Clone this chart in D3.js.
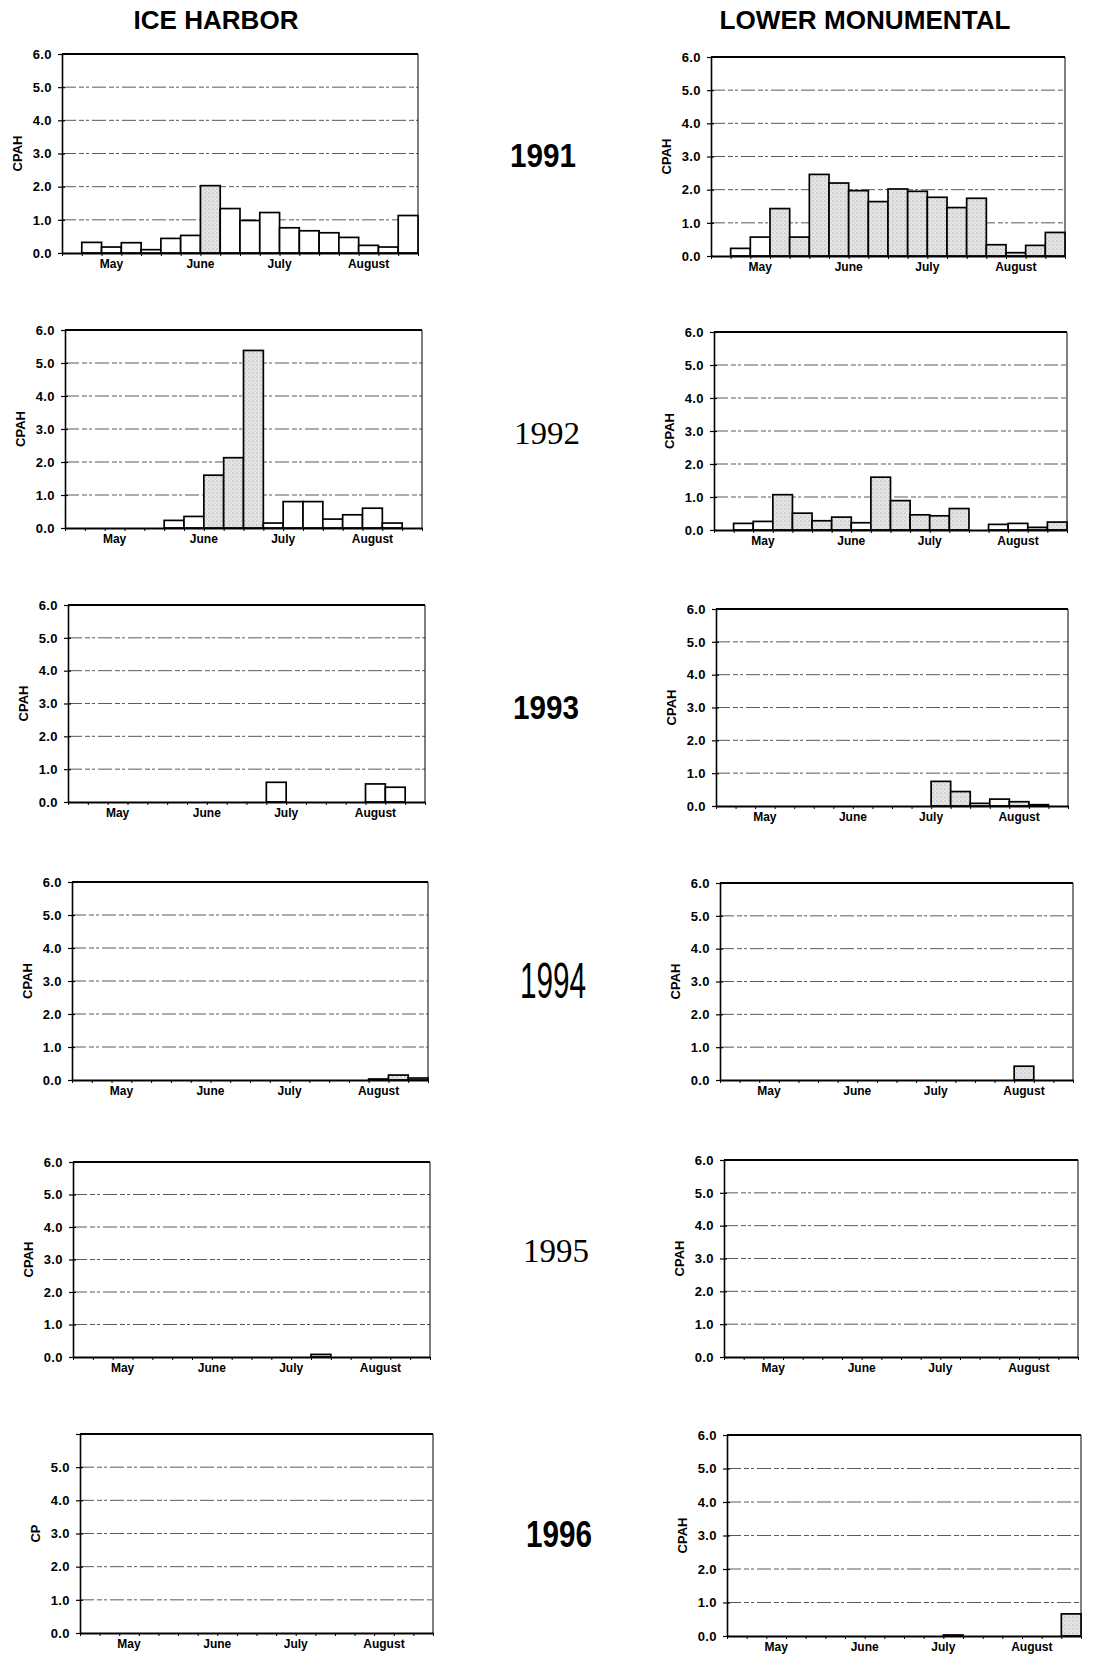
<!DOCTYPE html>
<html>
<head>
<meta charset="utf-8">
<script src="https://cdn.jsdelivr.net/npm/d3@7"></script>
<style>
  body { margin: 0; background: #fff; }
  .tick text { font-family: "Liberation Sans", Arial, sans-serif; font-weight: bold; }
</style>
</head>
<body>
<div id="chart"></div>
<script>
// weekly bins, May through August (18 slots per panel)
const months = ['May', 'June', 'July', 'August'];
const monthPos = [2.5, 7, 11, 15.5];
const yTicks = [0, 1, 2, 3, 4, 5, 6];
const years = ['1991', '1992', '1993', '1994', '1995', '1996'];
const sites = ['ICE HARBOR', 'LOWER MONUMENTAL'];

const iceHarbor1991 = [0, 0.32, 0.18, 0.31, 0.1, 0.44, 0.53, 2.03, 1.34, 0.98, 1.22, 0.76, 0.67, 0.61, 0.47, 0.23, 0.18, 1.13];
const lowerMon1991  = [0, 0.23, 0.57, 1.43, 0.57, 2.46, 2.2, 1.97, 1.64, 2.02, 1.95, 1.77, 1.46, 1.74, 0.34, 0.1, 0.32, 0.71];
const iceHarbor1992 = [0, 0, 0, 0, 0, 0.23, 0.35, 1.6, 2.13, 5.38, 0.15, 0.8, 0.8, 0.27, 0.4, 0.6, 0.15, 0];
const lowerMon1992  = [0, 0.2, 0.26, 1.07, 0.51, 0.28, 0.39, 0.22, 1.6, 0.89, 0.46, 0.43, 0.65, 0, 0.17, 0.2, 0.08, 0.24];
const iceHarbor1993 = [0, 0, 0, 0, 0, 0, 0, 0, 0, 0, 0.6, 0, 0, 0, 0, 0.55, 0.45, 0];
const lowerMon1993  = [0, 0, 0, 0, 0, 0, 0, 0, 0, 0, 0, 0.75, 0.44, 0.08, 0.21, 0.13, 0.04, 0];
const iceHarbor1994 = [0, 0, 0, 0, 0, 0, 0, 0, 0, 0, 0, 0, 0, 0, 0, 0.03, 0.15, 0.06];
const lowerMon1994  = [0, 0, 0, 0, 0, 0, 0, 0, 0, 0, 0, 0, 0, 0, 0, 0.42, 0, 0];
const iceHarbor1995 = [0, 0, 0, 0, 0, 0, 0, 0, 0, 0, 0, 0, 0.08, 0, 0, 0, 0, 0];
const lowerMon1995  = [0, 0, 0, 0, 0, 0, 0, 0, 0, 0, 0, 0, 0, 0, 0, 0, 0, 0];
const iceHarbor1996 = [0, 0, 0, 0, 0, 0, 0, 0, 0, 0, 0, 0, 0, 0, 0, 0, 0, 0];
const lowerMon1996  = [0, 0, 0, 0, 0, 0, 0, 0, 0, 0, 0, 0.03, 0, 0, 0, 0, 0, 0.66];

// which weekly bars are stippled
const shade = {
  ih1991: [7],
  lm1991: [3, 4, 5, 6, 7, 8, 9, 10, 11, 12, 13, 14, 15, 16, 17],
  ih1992: [7, 8, 9],
  lm1992: [3, 4, 5, 6, 8, 9, 10, 11, 12, 16, 17],
  ih1993: [],
  lm1993: [11, 12, 15],
  ih1994: [16],
  lm1994: [15],
  ih1995: [12],
  lm1995: [],
  ih1996: [],
  lm1996: [17]
};

const width = 1107, height = 1666;
const svg = d3.select('#chart').append('svg')
  .attr('width', width).attr('height', height);

const pat = svg.append('defs').append('pattern')
  .attr('id', 'stip').attr('width', 4).attr('height', 4)
  .attr('patternUnits', 'userSpaceOnUse');
pat.append('rect').attr('width', 4).attr('height', 4).attr('fill', '#e6e6e6');
pat.append('circle').attr('cx', 1).attr('cy', 1).attr('r', 0.6).attr('fill', '#8a8a8a');
pat.append('circle').attr('cx', 3).attr('cy', 3).attr('r', 0.5).attr('fill', '#b0b0b0');

// plot box per panel: left, right, y of 6.0, y of 0.0
const panels = [
  {data: iceHarbor1991, sh: shade.ih1991, box: [62, 418, 54, 253]},
  {data: lowerMon1991,  sh: shade.lm1991, box: [711, 1065, 57, 256]},
  {data: iceHarbor1992, sh: shade.ih1992, box: [65, 422, 330, 528]},
  {data: lowerMon1992,  sh: shade.lm1992, box: [714, 1067, 332, 530]},
  {data: iceHarbor1993, sh: shade.ih1993, box: [68, 425, 605, 802]},
  {data: lowerMon1993,  sh: shade.lm1993, box: [716, 1068, 609, 806]},
  {data: iceHarbor1994, sh: shade.ih1994, box: [72, 428, 882, 1080]},
  {data: lowerMon1994,  sh: shade.lm1994, box: [720, 1073, 883, 1080]},
  {data: iceHarbor1995, sh: shade.ih1995, box: [73, 430, 1162, 1357]},
  {data: lowerMon1995,  sh: shade.lm1995, box: [724, 1078, 1160, 1357]},
  {data: iceHarbor1996, sh: shade.ih1996, box: [80, 433, 1434, 1633], label: 'CP'},
  {data: lowerMon1996,  sh: shade.lm1996, box: [727, 1081, 1435, 1636]}
];

panels.forEach(drawPanel);

function drawPanel(p) {
  const [x0, x1, yTop, yZero] = p.box;
  const x = d3.scaleLinear().domain([0, 18]).range([x0, x1]);
  const y = d3.scaleLinear().domain([0, 6]).range([yZero, yTop]);
  const g = svg.append('g');

  // dashed gridlines
  g.selectAll('line.grid')
    .data(yTicks.filter(v => v > 0 && v < 6))
    .join('line')
    .attr('class', 'grid')
    .attr('x1', x0).attr('x2', x1)
    .attr('y1', d => y(d)).attr('y2', d => y(d))
    .attr('stroke', '#333')
    .attr('stroke-width', 1)
    .attr('stroke-dasharray', '14 3 5 2 3 3')
    .attr('opacity', 0.8);

  // top line and right border
  g.append('line')
    .attr('x1', x0).attr('x2', x1).attr('y1', y(6)).attr('y2', y(6))
    .attr('stroke', '#000').attr('stroke-width', 2);
  g.append('line')
    .attr('x1', x1).attr('x2', x1).attr('y1', y(6)).attr('y2', y(0))
    .attr('stroke', '#000').attr('stroke-width', 1);

  // bars
  const bw = x(1) - x(0);
  g.selectAll('rect.bar')
    .data(p.data.map((v, i) => ({v, i})).filter(d => d.v > 0))
    .join('rect')
    .attr('class', 'bar')
    .attr('x', d => x(d.i))
    .attr('width', bw)
    .attr('y', d => y(d.v))
    .attr('height', d => y(0) - y(d.v))
    .attr('fill', d => p.sh.includes(d.i) ? 'url(#stip)' : '#fff')
    .attr('stroke', '#000')
    .attr('stroke-width', 1.7);

  // y axis
  const yAxis = g.append('g')
    .attr('transform', `translate(${x0},0)`)
    .call(d3.axisLeft(y).tickValues(yTicks).tickFormat(d3.format('.1f'))
      .tickSize(4).tickPadding(6).tickSizeOuter(0));
  yAxis.select('.domain').attr('stroke-width', 1.6);
  yAxis.selectAll('.tick line').attr('x2', 3).attr('x1', -4).attr('stroke-width', 1.2);
  yAxis.selectAll('.tick text').attr('font-size', 13).attr('letter-spacing', 0.4).attr('fill', '#000');
  if (p.label === 'CP') yAxis.selectAll('.tick').filter(d => d === 6).select('text').remove();

  // x axis: weekly ticks, month names
  const xAxis = g.append('g')
    .attr('transform', `translate(0,${yZero})`)
    .call(d3.axisBottom(x).tickValues(d3.range(0, 19)).tickFormat('')
      .tickSize(3).tickSizeOuter(0));
  xAxis.select('.domain').attr('stroke-width', 2);

  g.selectAll('text.month')
    .data(months)
    .join('text')
    .attr('class', 'month')
    .attr('x', (d, i) => x(monthPos[i]))
    .attr('y', yZero + 15)
    .attr('text-anchor', 'middle')
    .attr('font-family', '"Liberation Sans", Arial, sans-serif')
    .attr('font-weight', 'bold')
    .attr('font-size', 12)
    .text(d => d);

  // axis title
  g.append('text')
    .attr('transform', `translate(${x0 - 40},${y(3)}) rotate(-90)`)
    .attr('text-anchor', 'middle')
    .attr('font-family', '"Liberation Sans", Arial, sans-serif')
    .attr('font-weight', 'bold')
    .attr('font-size', 13)
    .text(p.label || 'CPAH');
}

// column titles
const titleX = [216, 865];
svg.selectAll('text.site')
  .data(sites)
  .join('text')
  .attr('class', 'site')
  .attr('x', (d, i) => titleX[i])
  .attr('y', 29)
  .attr('text-anchor', 'middle')
  .attr('font-family', '"Liberation Sans", Arial, sans-serif')
  .attr('font-weight', 'bold')
  .attr('font-size', 25)
  .attr('textLength', (d, i) => i === 0 ? 165 : 291)
  .attr('lengthAdjust', 'spacingAndGlyphs')
  .text(d => d);

// year labels between the columns
const yearStyle = [
  {x: 543, y: 167, font: '"Liberation Sans", Arial, sans-serif', weight: 'bold', size: 34},
  {x: 547, y: 444, font: '"Liberation Serif", "Times New Roman", serif', weight: 'normal', size: 32},
  {x: 546, y: 719, font: '"Liberation Sans", Arial, sans-serif', weight: 'bold', size: 34},
  {x: 553, y: 998, font: '"Liberation Sans", Arial, sans-serif', weight: 'normal', size: 50},
  {x: 556, y: 1262, font: '"Liberation Serif", "Times New Roman", serif', weight: 'normal', size: 34},
  {x: 559, y: 1547, font: '"Liberation Sans", Arial, sans-serif', weight: 'bold', size: 36}
];
svg.selectAll('text.year')
  .data(years)
  .join('text')
  .attr('class', 'year')
  .attr('x', (d, i) => yearStyle[i].x)
  .attr('y', (d, i) => yearStyle[i].y)
  .attr('text-anchor', 'middle')
  .attr('font-family', (d, i) => yearStyle[i].font)
  .attr('font-weight', (d, i) => yearStyle[i].weight)
  .attr('font-size', (d, i) => yearStyle[i].size)
  .attr('textLength', 66)
  .attr('lengthAdjust', 'spacingAndGlyphs')
  .text(d => d);
</script>
</body>
</html>
